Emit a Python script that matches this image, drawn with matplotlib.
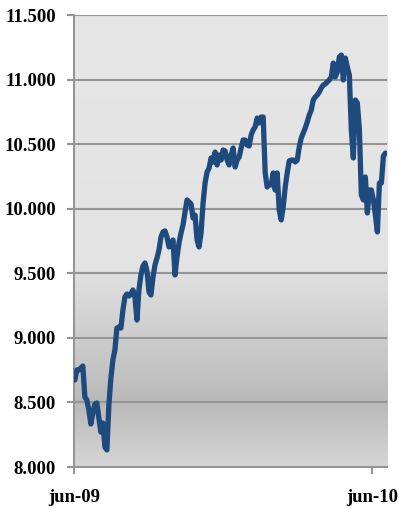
import matplotlib
matplotlib.use("Agg")
import matplotlib.pyplot as plt
import matplotlib.dates as mdates
from matplotlib.colors import LinearSegmentedColormap
from matplotlib.ticker import FuncFormatter, MultipleLocator
import numpy as np
import pandas as pd

# daily closing level, jun-09 .. jun-10
start_date = "2009-06-02"
end_date = "2010-06-17"
index_level = [
    8674, 8751, 8751, 8767, 8782, 8542, 8519, 8442, 8333, 8418,
    8488, 8496, 8380, 8271, 8341, 8155, 8132, 8480, 8689, 8829,
    8906, 9076, 9084, 9076, 9216, 9316, 9340, 9324, 9340, 9371,
    9316, 9138, 9371, 9487, 9556, 9580, 9518, 9355, 9332, 9471,
    9564, 9618, 9680, 9781, 9820, 9828, 9781, 9704, 9727, 9758,
    9487, 9626, 9735, 9812, 9874, 9975, 10068, 10052, 10037, 9928,
    9951, 9758, 9704, 9812, 10044, 10199, 10284, 10315, 10393, 10362,
    10439, 10339, 10416, 10377, 10455, 10447, 10377, 10339, 10416, 10470,
    10323, 10377, 10400, 10470, 10532, 10532, 10493, 10486, 10571, 10610,
    10633, 10702, 10664, 10710, 10710, 10277, 10168, 10191, 10184, 10277,
    10145, 10277, 9990, 9913, 10013, 10168, 10277, 10370, 10377, 10377,
    10362, 10377, 10478, 10548, 10586, 10625, 10672, 10726, 10764, 10842,
    10865, 10881, 10904, 10935, 10958, 10966, 10981, 10997, 11020, 11128,
    11020, 11059, 11175, 11190, 10997, 11167, 11097, 11035, 10610, 10393,
    10842, 10819, 10617, 10106, 10068, 10246, 9967, 10145, 10145, 10068,
    9951, 9820, 10199, 10199, 10408, 10431,
]
tick_dates = ["2009-06-01", "2010-06-01"]
tick_labels = ["jun-09", "jun-10"]

dates = pd.date_range(start_date, end_date, periods=len(index_level))

plt.rcParams["font.family"] = ["Liberation Serif", "DejaVu Serif"]
plt.rcParams["font.weight"] = "bold"

fig = plt.figure(figsize=(3.99, 5.09), dpi=100)
ax = fig.add_axes([0.1855, 0.0825, 0.7845, 0.888])

# grey backdrop, darker towards the lower band
cmap = LinearSegmentedColormap.from_list(
    "bg",
    [(0.0, "#e6e6e6"), (0.55, "#e3e3e3"), (0.86, "#b9b9b9"), (1.0, "#d6d6d6")],
)
grad = np.linspace(0, 1, 256).reshape(-1, 1)
ax.imshow(grad, cmap=cmap, extent=[0, 1, 0, 1], transform=ax.transAxes,
          aspect="auto", zorder=0, interpolation="bilinear")
ax.patch.set_visible(False)

ax.plot(dates, index_level, color="#1f4a7e", lw=3.8,
        solid_capstyle="round", solid_joinstyle="round", zorder=3)

ax.set_ylim(8000, 11500)
ax.set_xlim(pd.Timestamp("2009-06-01"), pd.Timestamp("2010-06-19"))
ax.yaxis.set_major_locator(MultipleLocator(500))
ax.yaxis.set_major_formatter(
    FuncFormatter(lambda v, _: f"{v:,.0f}".replace(",", "."))
)
ax.set_xticks([mdates.date2num(pd.Timestamp(d)) for d in tick_dates])
ax.set_xticklabels(tick_labels)

ax.grid(axis="y", color="#959595", lw=1.5, zorder=1)
for side in ("top", "right"):
    ax.spines[side].set_visible(False)
for side in ("left", "bottom"):
    ax.spines[side].set_color("#959595")
    ax.spines[side].set_linewidth(1.5)

ax.tick_params(axis="y", length=5, width=1.5, color="#959595", pad=8,
               labelsize=13.5)
ax.tick_params(axis="x", length=5, width=1.5, color="#959595", pad=11,
               labelsize=13.5)

plt.savefig("out.png", dpi=100)
